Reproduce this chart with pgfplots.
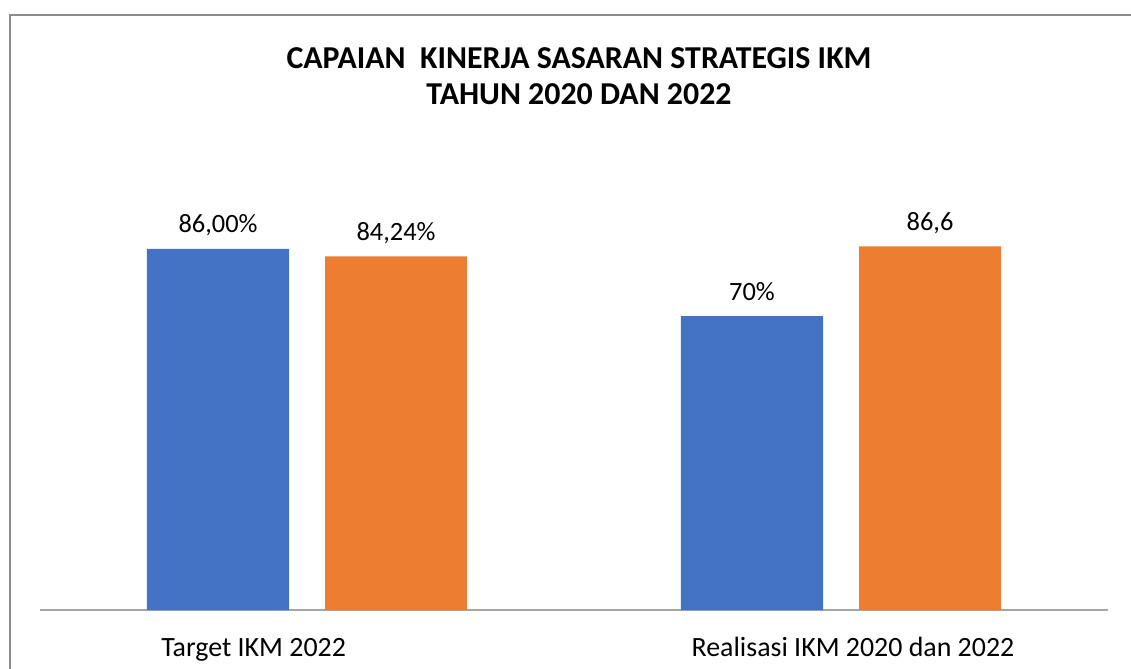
\documentclass[border=0pt]{standalone}
\usepackage{fontspec}
\setmainfont{Carlito}
\usepackage{pgfplots}
\pgfplotsset{compat=1.18}
\definecolor{cblue}{HTML}{4472C4}
\definecolor{corange}{HTML}{ED7D31}
\definecolor{cframe}{HTML}{8C8C8C}
\definecolor{caxis}{HTML}{A6A6A6}
\begin{document}
\begin{tikzpicture}
\useasboundingbox (0,0) rectangle (1131bp,669bp);
\draw[cframe, line width=2bp] (10bp,0) -- (10bp,654bp) -- (1131bp,654bp);
\node[anchor=base, font=\fontsize{32}{36}\selectfont\bfseries] at (579bp,600bp) {CAPAIAN\ \ KINERJA SASARAN STRATEGIS IKM};
\node[anchor=base, font=\fontsize{32}{36}\selectfont\bfseries] at (579bp,564bp) {TAHUN 2020 DAN 2022};
\begin{axis}[
  at={(40bp,59bp)}, anchor=south west,
  scale only axis, width=1068bp, height=419.8bp,
  xmin=-0.5, xmax=1.5, ymin=0, ymax=100,
  ybar=36bp, bar width=142bp,
  axis y line=none,
  axis x line*=bottom,
  x axis line style={caxis, line width=1.5bp, -},
  xtick={-0.1,1.0225},
  xticklabels={Target IKM 2022, Realisasi IKM 2020 dan 2022},
  major tick length=0pt,
  xticklabel style={anchor=base, yshift=-46bp, font=\fontsize{28}{32}\selectfont, inner sep=0pt},
  point meta=explicit symbolic,
  nodes near coords,
  every node near coord/.append style={anchor=base, yshift=16bp, inner sep=0pt, font=\fontsize{26.5}{30}\selectfont, text=black},
  clip=false,
]
\addplot[fill=cblue, draw=none] coordinates {(0,86) [86,00\%] (1,70) [70\%]};
\addplot[fill=corange, draw=none] coordinates {(0,84.24) [84,24\%] (1,86.6) [86,6]};
\end{axis}
\end{tikzpicture}
\end{document}
